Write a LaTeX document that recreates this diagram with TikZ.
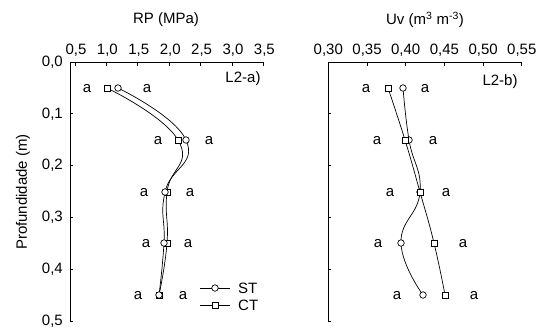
\documentclass[tikz,border=0pt]{standalone}
\usepackage{fontspec}
\setmainfont{Liberation Sans}
\begin{document}
\begin{tikzpicture}[x=1pt,y=-1pt,
  font=\fontsize{15}{18}\selectfont,
  axis/.style={line width=0.9pt},
  curve/.style={line width=0.7pt},
  stmark/.style={circle,draw,fill=white,line width=0.7pt,inner sep=0pt,minimum size=6.5pt},
  ctmark/.style={rectangle,draw,fill=white,line width=0.7pt,inner sep=0pt,minimum size=6pt},
  lbl/.style={inner sep=0pt}]
\useasboundingbox (0,0) rectangle (545,333);

% ---------- left panel axes ----------
\draw[axis] (263.4,65.5) -- (263.4,62) -- (70,62) -- (70,321) -- (73,321);
\foreach \i/\t in {0/{0,5},1/{1,0},2/{1,5},3/{2,0},4/{2,5},5/{3,0},6/{3,5}} {
  \draw[axis] ({75+31.4*\i},62) -- ({75+31.4*\i},65.5);
  \node[lbl] (lt\i) at ({76+31.4*\i},50) {\t};
}
\foreach \i/\t in {0/{0,0},1/{0,1},2/{0,2},3/{0,3},4/{0,4},5/{0,5}} {
  \draw[axis] (70,{62+51.8*\i}) -- (73,{62+51.8*\i});
  \node[lbl,anchor=east] (ly\i) at (63,{62+51.8*\i}) {\t};
}
\node[lbl] (titleA) at (166,20) {RP (MPa)};
\node[lbl,rotate=90] (ylab) at (23,192) {Profundidade (m)};
\node[lbl] (tagA) at (243,79) {L2-a)};

% ---------- right panel axes ----------
\draw[axis] (521.8,65.5) -- (521.8,62) -- (328.3,62) -- (328.3,321) -- (331.3,321);
\foreach \i/\t in {0/{0,30},1/{0,35},2/{0,40},3/{0,45},4/{0,50},5/{0,55}} {
  \draw[axis] ({328.3+38.7*\i},62) -- ({328.3+38.7*\i},65.5);
  \node[lbl] (rt\i) at ({328.3+38.7*\i},50) {\t};
}
\foreach \i in {1,...,4} {
  \draw[axis] (328.3,{62+51.8*\i}) -- (331.3,{62+51.8*\i});
}
\node[lbl] (titleB) at (425,20) {Uv (m\textsuperscript{3} m\textsuperscript{-3})};
\node[lbl] (tagB) at (500,82) {L2-b)};

% ---------- left panel data ----------
\coordinate (as1) at (118,88);  \coordinate (as2) at (186,140);
\coordinate (as3) at (165,192); \coordinate (as4) at (164,243);
\coordinate (as5) at (159,295);
\coordinate (ac1) at (107,88);  \coordinate (ac2) at (178,140);
\coordinate (ac3) at (167,192); \coordinate (ac4) at (167,243);
\coordinate (ac5) at (159,295);
\draw[curve] plot[smooth,tension=0.85] coordinates {(as1) (as2) (as3) (as4) (as5)};
\draw[curve] plot[smooth,tension=0.85] coordinates {(ac1) (ac2) (ac3) (ac4) (ac5)};
\foreach \k in {1,...,5} {
  \node[ctmark] (acm\k) at (ac\k) {};
  \node[stmark] (asm\k) at (as\k) {};
}

% ---------- right panel data ----------
\coordinate (bs1) at (403,88);  \coordinate (bs2) at (409,140);
\coordinate (bs3) at (420,192); \coordinate (bs4) at (401,243);
\coordinate (bs5) at (423,295);
\coordinate (bc1) at (388,88);  \coordinate (bc2) at (405,140);
\coordinate (bc3) at (420,192); \coordinate (bc4) at (434,243);
\coordinate (bc5) at (445,295);
\draw[curve] plot[smooth,tension=0.8] coordinates {(bs1) (bs2) (bs3) (bs4) (bs5)};
\draw[curve] plot[smooth,tension=0.8] coordinates {(bc1) (bc2) (bc3) (bc4) (bc5)};
\foreach \k in {1,...,5} {
  \node[stmark] (bsm\k) at (bs\k) {};
  \node[ctmark] (bcm\k) at (bc\k) {};
}

% ---------- letters ----------
\foreach \n/\x/\y in {a1/87/89, a2/147/89, a3/158/141, a4/209/141, a5/144/193, a6/190/193,
  a7/146/244, a8/188/244, a9/138/296, a10/183/296,
  b1/366/89, b2/425/89, b3/377/141, b4/433/141, b5/390/193, b6/446/193,
  b7/378/244, b8/463/244, b9/397/296, b10/474/296} {
  \node[lbl] (L\n) at (\x,\y) {a};
}

% ---------- legend ----------
\coordinate (lg1a) at (200,288); \coordinate (lg1b) at (230,288);
\coordinate (lg2a) at (200,305); \coordinate (lg2b) at (230,305);
\draw[curve] (lg1a) -- (lg1b);
\draw[curve] (lg2a) -- (lg2b);
\node[stmark] (lgs) at (215,288) {};
\node[ctmark] (lgc) at (215,305) {};
\node[lbl,anchor=west] (lgst) at (238,288) {ST};
\node[lbl,anchor=west] (lgct) at (238,305) {CT};
\end{tikzpicture}
\end{document}
